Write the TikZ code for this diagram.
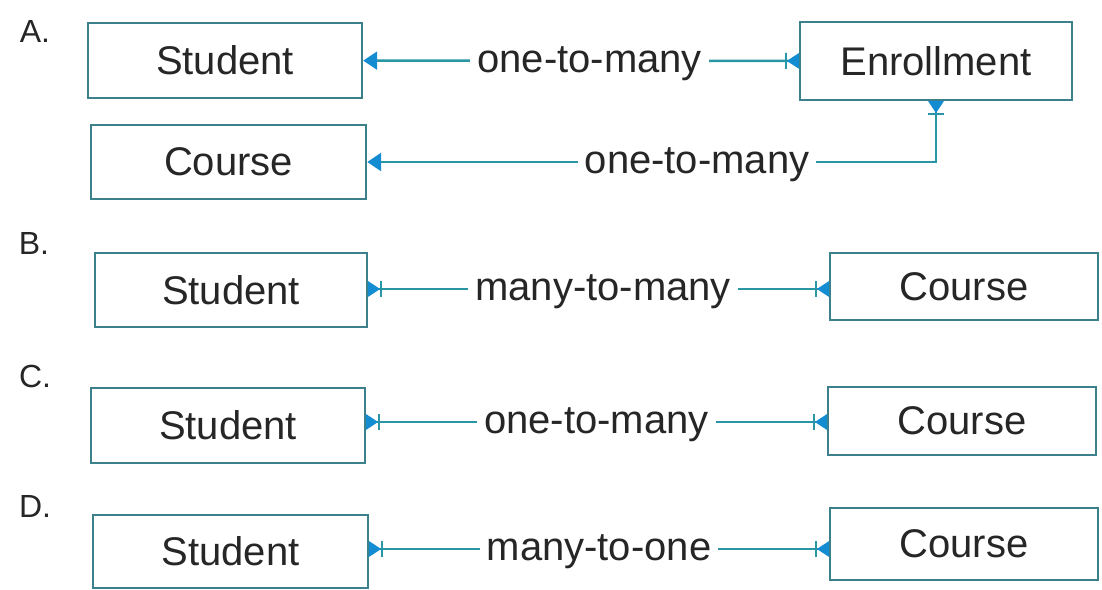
\documentclass[tikz,border=0pt]{standalone}
\usepackage{fontspec}
\setmainfont{Liberation Sans}
\usepackage{tikz}
\usetikzlibrary{arrows.meta}
\definecolor{boxline}{RGB}{60,128,140}
\definecolor{relline}{RGB}{40,150,165}
\definecolor{tipblue}{RGB}{20,140,210}
\tikzstyle{entity} = [rectangle, draw=boxline, line width=2.4pt, text=black!85, font=\fontsize{40}{44}\selectfont, inner sep=0pt]
\tikzstyle{relation} = [fill=white, text=black!85, font=\fontsize{40}{44}\selectfont, inner xsep=7pt, inner ysep=2pt, yshift=-3pt]
\tikzstyle{option} = [text=black!85, font=\fontsize{32}{36}\selectfont, anchor=center]
\tikzstyle{link} = [draw=relline, line width=2.4pt]
\tikzset{
  one/.tip = {Triangle[width=18pt,length=14pt,color=tipblue]},
  many/.tip = {Bar[width=16pt,line width=1.6pt,color=relline] Triangle[reversed,width=15pt,length=12pt,color=tipblue,sep=0pt]}
}

\begin{document}
\begin{tikzpicture}[x=1pt, y=-1pt]
  \useasboundingbox (0,0) rectangle (1102,589);

  % A.
  \node (labelA) [option] at (35,31) {A.};
  \node (studentA) [entity, minimum width=274pt, minimum height=75pt] at (225,60.5) {Student};
  \node (enrollA) [entity, minimum width=272pt, minimum height=78pt] at (936,61) {Enrollment};
  \node (courseA) [entity, minimum width=275pt, minimum height=74pt] at (228.5,162) {Course};
  \draw [link, {one}-{many}] (studentA) -- node[relation, pos=0.52] {one-to-many} (enrollA);
  \draw [link, {one}-{many}] (courseA.east) -| node[relation, pos=0.29] {one-to-many} (enrollA.south);

  % B.
  \node (labelB) [option] at (34,243) {B.};
  \node (studentB) [entity, minimum width=272pt, minimum height=74pt] at (231,290) {Student};
  \node (courseB) [entity, minimum width=268pt, minimum height=67pt] at (964,286.5) {Course};
  \draw [link, {many}-{many}] (studentB.east |- 0,289) -- node[relation, pos=0.51] {many-to-many} (courseB.west |- 0,289);

  % C.
  \node (labelC) [option] at (35,376) {C.};
  \node (studentC) [entity, minimum width=274pt, minimum height=75pt] at (228,425.5) {Student};
  \node (courseC) [entity, minimum width=268pt, minimum height=68pt] at (962,421) {Course};
  \draw [link, {many}-{many}] (studentC.east |- 0,422) -- node[relation, pos=0.5] {one-to-many} (courseC.west |- 0,422);

  % D.
  \node (labelD) [option] at (35,506) {D.};
  \node (studentD) [entity, minimum width=275pt, minimum height=73pt] at (230.5,551.5) {Student};
  \node (courseD) [entity, minimum width=268pt, minimum height=72pt] at (964,544) {Course};
  \draw [link, {many}-{many}] (studentD.east |- 0,549) -- node[relation, pos=0.5] {many-to-one} (courseD.west |- 0,549);
\end{tikzpicture}
\end{document}
